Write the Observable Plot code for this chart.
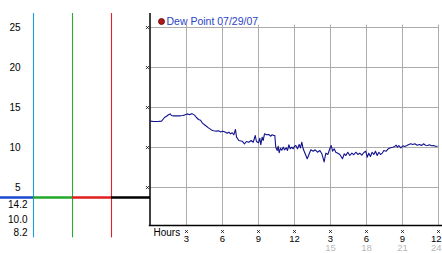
<!DOCTYPE html>
<html>
<head>
<meta charset="utf-8">
<script src="https://cdn.jsdelivr.net/npm/d3@7"></script>
<script src="https://cdn.jsdelivr.net/npm/@observablehq/plot@0.6"></script>
<style>
  html, body { margin: 0; padding: 0; background: #fff; }
  svg { display: block; }
</style>
</head>
<body>
<div id="chart"></div>
<script>
// Dew point readings: [hour of day, value]
const dewPoint = [
  [0.00,13.30],[0.25,13.25],[0.58,13.25],[0.92,13.30],[1.17,13.75],[1.33,13.90],[1.50,14.10],[1.64,14.20],
  [1.75,14.00],[1.92,13.95],[2.17,13.95],[2.42,13.95],[2.67,14.00],[2.83,14.05],[3.00,14.15],[3.12,14.20],
  [3.25,14.10],[3.38,14.20],[3.50,14.20],[3.67,14.05],[3.83,13.75],[4.00,13.50],[4.17,13.40],[4.33,13.05],
  [4.58,12.75],[4.83,12.45],[5.08,12.20],[5.25,12.10],[5.50,12.05],[5.67,12.10],[5.83,11.95],
  [6.00,12.04],[6.11,12.00],[6.25,11.91],[6.39,11.79],[6.53,11.91],[6.67,11.71],[6.81,11.84],[6.94,11.59],
  [7.08,12.25],[7.17,11.29],[7.36,10.88],[7.64,10.79],[7.83,10.46],[8.00,10.75],[8.19,10.66],[8.39,10.88],
  [8.56,10.66],[8.73,11.50],[8.83,10.75],[9.00,10.59],[9.11,11.16],[9.19,10.34],[9.31,11.29],[9.39,10.88],
  [9.50,11.71],[9.67,11.59],[9.86,11.63],[10.00,11.41],[10.14,11.59],[10.28,11.50],[10.36,11.50],[10.44,10.04],
  [10.56,9.63],[10.64,10.16],[10.72,9.34],[10.83,9.91],[10.94,9.66],[11.06,10.04],[11.17,9.71],[11.31,9.96],
  [11.42,9.63],[11.53,10.34],[11.64,9.84],[11.78,10.04],[11.89,9.84],[12.00,10.16],
  [12.11,10.25],[12.25,9.84],[12.39,10.38],[12.50,9.96],[12.61,10.66],[12.72,9.84],[12.89,9.21],[13.06,8.59],
  [13.17,9.00],[13.36,9.71],[13.56,9.54],[13.72,9.71],[13.92,9.41],[14.11,9.63],[14.28,9.21],[14.47,8.20],
  [14.61,9.29],[14.78,9.13],[14.94,9.84],[15.06,10.25],[15.17,9.54],[15.31,9.84],[15.44,9.41],[15.61,9.29],
  [15.78,9.13],[16.00,8.59],[16.14,9.21],[16.28,9.00],[16.44,9.41],[16.61,9.00],[16.78,9.29],[16.94,9.09],
  [17.11,9.41],[17.28,9.13],[17.44,9.29],[17.61,9.04],[17.78,9.38],[17.94,9.54],
  [18.06,8.79],[18.19,9.29],[18.33,8.88],[18.47,9.41],[18.61,9.13],[18.75,9.54],[18.89,9.00],[19.03,9.41],
  [19.17,9.13],[19.31,9.29],[19.44,9.63],[19.64,9.54],[19.81,9.84],[20.00,9.96],[20.19,10.04],[20.36,10.13],
  [20.47,10.29],[20.58,10.04],[20.69,10.25],[20.86,9.96],[21.03,10.21],[21.19,10.13],[21.36,10.25],[21.53,10.38],
  [21.69,10.46],[21.86,10.38],[22.03,10.46],[22.22,10.29],[22.42,10.38],[22.58,10.25],[22.75,10.46],[22.92,10.29],
  [23.08,10.25],[23.25,10.34],[23.42,10.21],[23.58,10.25],[23.75,10.16],[23.89,10.16]
];
const yTicks = [5, 10, 15, 20, 25];
const hourTicks = [3, 6, 9, 12, 15, 18, 21, 24];
const hourLabels = ["3", "6", "9", "12", "3", "6", "9", "12"];
const afternoonTicks = [15, 18, 21, 24];
const afternoonLabels = ["15", "18", "21", "24"];
const statLabels = ["14.2", "10.0", "8.2"];   // max, current, min
const legendLabel = "Dew Point 07/29/07";

// left-panel decoration (hour-scale columns left of the chart)
const panel = [
  {x1: -12.5, x2: -9.75, col: "#1a48d0", vline: "#1e9ee0"},
  {x1: -9.75, x2: -6.5,  col: "#20a828", vline: "#2aaa32"},
  {x1: -6.5,  x2: -3.25, col: "#e01c1c", vline: "#e02424"},
  {x1: -3.25, x2: 0,     col: "#000000", vline: null}
];

const data = dewPoint.map(([h, v]) => ({h, v}));
const font = "Liberation Sans, Arial, sans-serif";
const txt = {lineAnchor: "middle", fill: "#000"};

const chart = Plot.plot({
  width: 442,
  height: 253,
  marginLeft: 0,
  marginRight: 4,
  marginTop: 13,
  marginBottom: 28,
  x: {domain: [-12.5, 24], axis: null},
  y: {domain: [0.25, 26.75], axis: null},
  style: {fontFamily: font, fontSize: "10px", background: "#fff", color: "#000"},
  marks: [
    // grid
    Plot.ruleY(yTicks, {x1: 0, x2: 24, stroke: "#acacac", strokeWidth: 1}),
    Plot.ruleX(hourTicks, {y1: 0.25, y2: 25.3, stroke: "#acacac", strokeWidth: 1}),
    // left panel
    ...panel.filter(d => d.vline).map(d =>
      Plot.ruleX([d.x2], {y1: -1.3, y2: 26.75, stroke: d.vline, strokeWidth: 1.1})),
    ...panel.map(d =>
      Plot.ruleY([3.75], {x1: d.x1, x2: d.x2, stroke: d.col, strokeWidth: 2.5})),
    // axes lines
    Plot.ruleX([0], {y1: 0.25, y2: 26.75, stroke: "#000", strokeWidth: 1.5, dx: -0.5}),
    Plot.ruleY([0.25], {x1: -0.1, x2: 24.4, stroke: "#000", strokeWidth: 1.6}),
    // data
    Plot.line(data, {x: "h", y: "v", stroke: "#12128e", strokeWidth: 1.1}),
    // y tick marks and labels
    Plot.dot(yTicks, {x: 0, y: d => d, dx: -3, symbol: "times", r: 1.4, stroke: "#000", strokeWidth: 0.8}),
    Plot.text(yTicks, {...txt, y: d => d, frameAnchor: "left", dx: 20, textAnchor: "end"}),
    // stats
    ...statLabels.map((s, i) => Plot.text([s], {...txt, frameAnchor: "bottom-left", dx: 27, dy: [-21, -6, 7][i], textAnchor: "end"})),
    // x tick marks and labels
    Plot.dot(hourTicks, {x: d => d, frameAnchor: "bottom", dy: 6, symbol: "times", r: 1.4, stroke: "#000", strokeWidth: 0.8}),
    Plot.text(hourTicks.slice(0, -1), {...txt, x: d => d, text: (d, i) => hourLabels[i], frameAnchor: "bottom", dy: 13, fontSize: 9.5}),
    Plot.text(hourTicks.slice(-1), {...txt, x: d => d, text: () => hourLabels[hourLabels.length - 1], frameAnchor: "bottom", dy: 13, dx: 3, textAnchor: "end", fontSize: 9.5}),
    Plot.text(afternoonTicks.slice(0, -1), {...txt, x: d => d, text: (d, i) => afternoonLabels[i], frameAnchor: "bottom", dy: 22.5, fill: "#b8b8b8", fontSize: 9.5}),
    Plot.text(afternoonTicks.slice(-1), {...txt, x: d => d, text: () => afternoonLabels[afternoonLabels.length - 1], frameAnchor: "bottom", dy: 22.5, dx: 3, textAnchor: "end", fill: "#b8b8b8", fontSize: 9.5}),
    Plot.text(["Hours"], {...txt, x: 0, frameAnchor: "bottom", dx: 3, dy: 7, textAnchor: "start"}),
    // legend
    Plot.dot([legendLabel], {frameAnchor: "top-left", dx: 161, dy: 8, r: 3, fill: "#b01818", stroke: "#5a0000", strokeWidth: 0.8}),
    Plot.text([legendLabel], {...txt, frameAnchor: "top-left", dx: 166, dy: 8, textAnchor: "start", fill: "#2a44c8", fontSize: 10.5})
  ]
});
document.getElementById("chart").appendChild(chart);
</script>
</body>
</html>
